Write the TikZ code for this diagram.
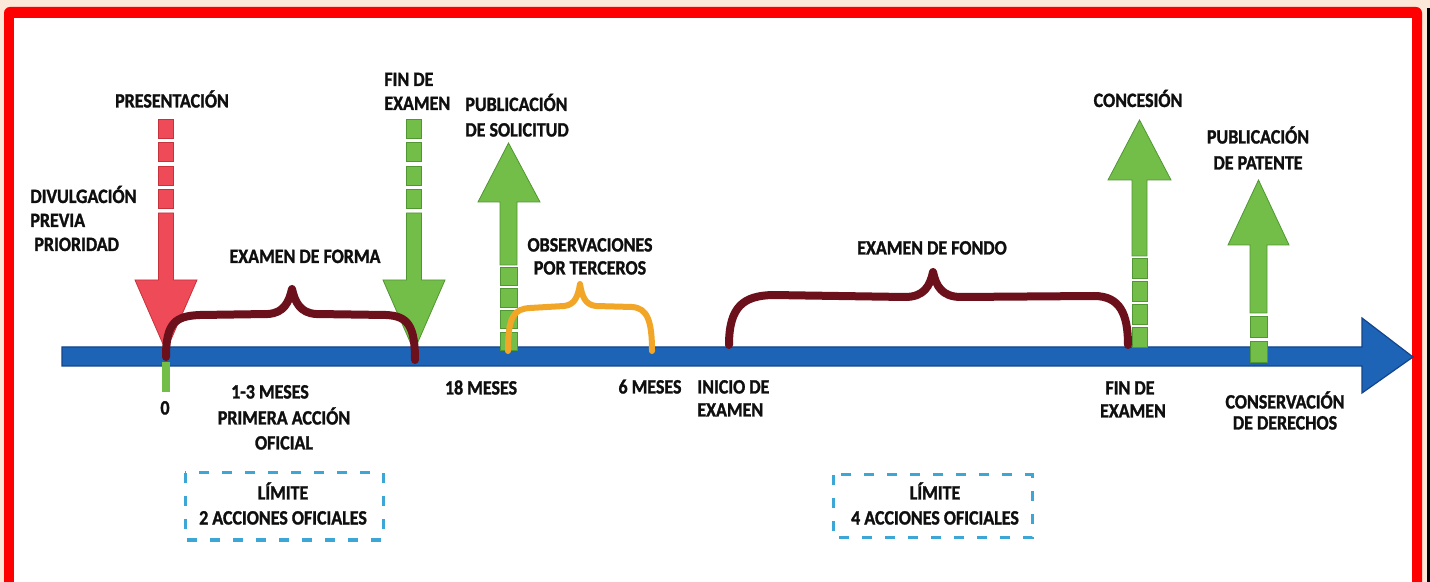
\documentclass[tikz,border=0pt]{standalone}
\usepackage{fontspec}
\setmainfont{Carlito}[FakeStretch=0.88, BoldFeatures={FakeBold=1.3}]
\definecolor{peach}{RGB}{252,232,216}
\definecolor{frame}{RGB}{255,0,0}
\definecolor{tlblue}{RGB}{30,100,182}
\definecolor{tlblueD}{RGB}{18,68,140}
\definecolor{agreen}{RGB}{114,190,72}
\definecolor{agreenD}{RGB}{80,150,50}
\definecolor{ared}{RGB}{238,74,88}
\definecolor{aredD}{RGB}{200,50,60}
\definecolor{maroon}{RGB}{108,16,28}
\definecolor{aorange}{RGB}{242,166,40}
\definecolor{dcyan}{RGB}{60,166,214}
\definecolor{txt}{RGB}{15,15,15}
\tikzset{
  lbl/.style={font=\fontsize{10.2}{12}\selectfont\bfseries, text=txt, inner sep=0pt, anchor=base},
  lblw/.style={lbl, anchor=base west},
  gfill/.style={fill=agreen, draw=agreenD, line width=0.4pt},
  rfill/.style={fill=ared, draw=aredD, line width=0.4pt},
  bracebrown/.style={draw=maroon, line width=4pt, line cap=round, line join=round},
  braceorange/.style={draw=aorange, line width=3pt, line cap=round, line join=round},
  limitbox/.style={draw=dcyan, line width=1.5pt, dash pattern=on 5pt off 6.5pt}
}
\newcommand{\tlDown}[2]{%
  \foreach \yy in {119,142.5,166,189.5}{\fill[#2] ({#1-7.5},\yy) rectangle ({#1+7.5},\yy+19);}
  \path[#2] ({#1-7.5},213) -- ({#1+7.5},213) -- ({#1+7.5},280) -- ({#1+31},280) -- (#1,351)
     -- ({#1-31},280) -- ({#1-7.5},280) -- cycle;}
\begin{document}
\begin{tikzpicture}[x=0.5pt,y=-0.5pt]
\useasboundingbox (0,0) rectangle (1430,582);
\clip (0,0) rectangle (1430,582);
% frame
\fill[peach] (0,0) rectangle (1430,582);
\fill[black] (1427,8) rectangle (1430,582);
\fill[frame, rounded corners=3pt] (4,7) rectangle (1422,640);
\fill[white] (14,18) rectangle (1412,640);

% timeline
\path[fill=tlblue, draw=tlblueD, line width=0.6pt] (62,347) -- (1362,347) -- (1362,318) -- (1413,357)
   -- (1362,393) -- (1362,366) -- (62,366) -- cycle;

% zero stub
\fill[agreen] (161.5,362) rectangle (170,392);

% down arrows
\tlDown{166}{rfill}
\tlDown{414}{gfill}

% up arrow: publicacion de solicitud
\path[gfill] (500,265) -- (500,202) -- (478,202) -- (508.5,143) -- (540,202) -- (517,202) -- (517,265) -- cycle;
\foreach \yy in {267,288.5,310,332}{\fill[gfill] (500,\yy) rectangle (517,\yy+18.5);}

% up arrow: concesion
\path[gfill] (1132,256) -- (1132,180) -- (1108,180) -- (1139.5,120) -- (1171,180) -- (1147,180) -- (1147,256) -- cycle;
\foreach \yy in {258,281,304,327}{\fill[gfill] (1132,\yy) rectangle (1147,\yy+20);}

% up arrow: publicacion de patente
\path[gfill] (1250,313) -- (1250,245) -- (1228,245) -- (1258.5,180) -- (1289,245) -- (1267,245) -- (1267,313) -- cycle;
\foreach \yy in {316,341}{\fill[gfill] (1250,\yy) rectangle (1267,\yy+21);}

% braces
\draw[bracebrown] (166,357) .. controls (166,322) and (176,316) .. (200,315) -- (268,314)
   .. controls (284,313) and (289,302) .. (292,289) .. controls (295,302) and (300,313) .. (316,314)
   -- (386,315) .. controls (408,316) and (415,326) .. (415,360);
\draw[braceorange] (508,351) .. controls (508,316) and (514,309) .. (530,308) -- (564,306)
   .. controls (575,305) and (578,296) .. (580,284) .. controls (582,296) and (585,305) .. (596,306)
   -- (632,307) .. controls (647,308) and (652,320) .. (652,351);
\draw[bracebrown] (729,345) .. controls (729,306) and (744,296) .. (772,295) -- (905,297)
   .. controls (924,297) and (930,286) .. (933,272) .. controls (936,286) and (942,297) .. (961,297)
   -- (1094,296) .. controls (1120,296) and (1128,314) .. (1128,345);

% dashed limit boxes
\draw[limitbox] (185,473) rectangle (383,540);
\draw[limitbox] (833,475) rectangle (1032,538);

% labels above
\node[lbl] (pres) at (172,107.5) {PRESENTACIÓN};
\node[lblw] (div1) at (30,203) {DIVULGACIÓN};
\node[lblw] (div2) at (30,227) {PREVIA};
\node[lblw] (div3) at (34,251) {PRIORIDAD};
\node[lbl] (forma) at (305,263) {EXAMEN DE FORMA};
\node[lblw] (fin1a) at (384,86) {FIN DE};
\node[lblw] (fin1b) at (384,110) {EXAMEN};
\node[lblw] (pub1a) at (465,111) {PUBLICACIÓN};
\node[lblw] (pub1b) at (465,136.5) {DE SOLICITUD};
\node[lbl] (obs1) at (590,251.5) {OBSERVACIONES};
\node[lbl] (obs2) at (590,274.5) {POR TERCEROS};
\node[lbl] (fondo) at (932,254.5) {EXAMEN DE FONDO};
\node[lbl] (conc) at (1138,107) {CONCESIÓN};
\node[lbl] (pub2a) at (1258,143.5) {PUBLICACIÓN};
\node[lbl] (pub2b) at (1258,169.5) {DE PATENTE};

% labels below
\node[lbl] (zero) at (165,414.5) {0};
\node[lbl] (mes1) at (270,398.5) {1-3 MESES};
\node[lbl] (mes2) at (284,424.5) {PRIMERA ACCIÓN};
\node[lbl] (mes3) at (284,449.5) {OFICIAL};
\node[lbl] (m18) at (481,394.5) {18 MESES};
\node[lbl] (m6) at (650,393.5) {6 MESES};
\node[lblw] (ini1) at (697,393.5) {INICIO DE};
\node[lblw] (ini2) at (697,416.5) {EXAMEN};
\node[lbl] (fin2a) at (1130,394.5) {FIN DE};
\node[lbl] (fin2b) at (1133,417.5) {EXAMEN};
\node[lbl] (cons1) at (1285,408.5) {CONSERVACIÓN};
\node[lbl] (cons2) at (1285,429.5) {DE DERECHOS};
\node[lbl] (lim1a) at (283,499.5) {LÍMITE};
\node[lbl] (lim1b) at (283,524.5) {2 ACCIONES OFICIALES};
\node[lbl] (lim2a) at (935,499.5) {LÍMITE};
\node[lbl] (lim2b) at (935,524.5) {4 ACCIONES OFICIALES};
\end{tikzpicture}
\end{document}
